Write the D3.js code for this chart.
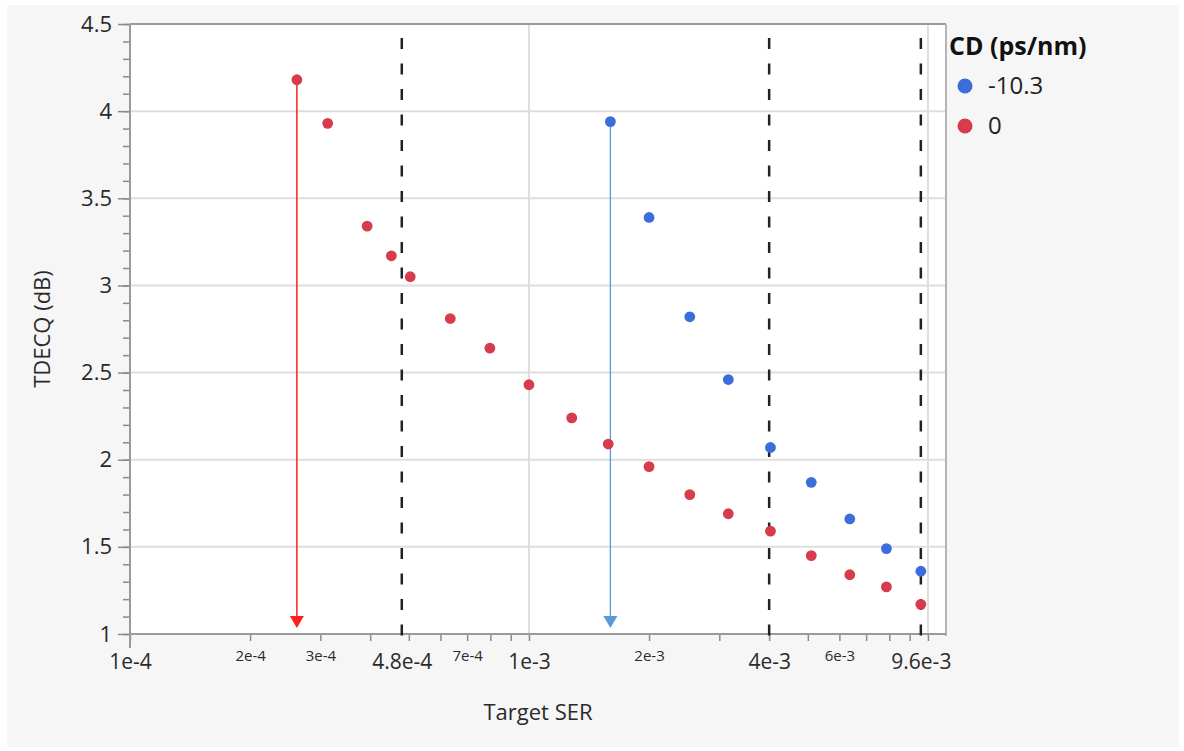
<!DOCTYPE html>
<html><head><meta charset="utf-8">
<script src="https://cdn.jsdelivr.net/npm/d3@7/dist/d3.min.js"></script>
<style>body{margin:0;background:#fff;} svg{display:block;font-family:"Open Sans",sans-serif;}</style>
</head><body><svg id="c" width="1184" height="751"></svg>
<script>
// ---- data ----
const legendTitle = "CD (ps/nm)";
const seriesNames = ["-10.3", "0"];
const seriesColors = ["#3b6ddb", "#d63c4c"];
const serBlue = [1.60e-3, 2.0e-3, 2.53e-3, 3.16e-3, 4.03e-3, 5.10e-3, 6.37e-3, 7.87e-3, 9.6e-3];
const tdecqBlue = [3.94, 3.39, 2.82, 2.46, 2.07, 1.87, 1.66, 1.49, 1.36];
const serRed = [2.62e-4, 3.13e-4, 3.93e-4, 4.52e-4, 5.04e-4, 6.35e-4, 7.98e-4, 1.0e-3, 1.28e-3, 1.58e-3, 2.0e-3, 2.53e-3, 3.16e-3, 4.03e-3, 5.10e-3, 6.37e-3, 7.87e-3, 9.6e-3];
const tdecqRed = [4.18, 3.93, 3.34, 3.17, 3.05, 2.81, 2.64, 2.43, 2.24, 2.09, 1.96, 1.80, 1.69, 1.59, 1.45, 1.34, 1.27, 1.17];
const refLines = [4.8e-4, 4e-3, 9.6e-3];
const xBigTicks = [1e-4, 4.8e-4, 1e-3, 4e-3, 9.6e-3];
const xBigLabels = ["1e-4", "4.8e-4", "1e-3", "4e-3", "9.6e-3"];
const xSmallTicks = [2e-4, 3e-4, 7e-4, 2e-3, 6e-3];
const xSmallLabels = ["2e-4", "3e-4", "7e-4", "2e-3", "6e-3"];
const xGrid = [1e-3, 1e-2];
const yTicks = [1, 1.5, 2, 2.5, 3, 3.5, 4, 4.5];
const yGrid = [1.5, 2, 2.5, 3, 3.5, 4];
const xTitle = "Target SER";
const yTitle = "TDECQ (dB)";

// ---- layout ----
const L = 130, R = 946, T = 24, B = 634;
const svg = d3.select("#c");
const x = d3.scaleLog().domain([1e-4, 0.0111]).range([L, R]);
const y = d3.scaleLinear().domain([1, 4.5]).range([B, T]);

svg.append("rect").attr("x", 7).attr("y", 5).attr("width", 1172).attr("height", 742).attr("fill", "#f6f6f6");
svg.append("rect").attr("x", L).attr("y", T).attr("width", R - L).attr("height", B - T).attr("fill", "#fff");

// grid
svg.append("g").selectAll("line").data(yGrid).join("line")
  .attr("x1", L).attr("x2", R).attr("y1", d => y(d)).attr("y2", d => y(d))
  .attr("stroke", "#dedede").attr("stroke-width", 2);
svg.append("g").selectAll("line").data(xGrid).join("line")
  .attr("x1", d => x(d)).attr("x2", d => x(d)).attr("y1", T).attr("y2", B)
  .attr("stroke", "#dedede").attr("stroke-width", 2);

// minor x ticks
const minorX = [];
[1e-4, 1e-3, 1e-2].forEach(dec => { for (let k = 1; k <= 9; k++) { const v = k * dec; if (v <= 0.0111) minorX.push(v); } });
const xAxisMinor = d3.axisBottom(x).tickValues(minorX).tickSize(7).tickFormat("");
const gxm = svg.append("g").attr("transform", `translate(0,${B})`).call(xAxisMinor);
gxm.select(".domain").remove();
gxm.selectAll("line").attr("stroke", "#8a8a8a").attr("stroke-width", 1.5);

// big x labels
const gxb = svg.append("g").attr("transform", `translate(0,${B})`)
  .call(d3.axisBottom(x).tickValues(xBigTicks).tickSize(0).tickPadding(20).tickFormat((d, i) => xBigLabels[i]));
gxb.select(".domain").remove();
gxb.selectAll("text").attr("font-size", 21).attr("fill", "#2a2a2a").attr("font-family", "Open Sans");
// small x labels
const gxs = svg.append("g").attr("transform", `translate(0,${B})`)
  .call(d3.axisBottom(x).tickValues(xSmallTicks).tickSize(0).tickPadding(16).tickFormat((d, i) => xSmallLabels[i]));
gxs.select(".domain").remove();
gxs.selectAll("text").attr("font-size", 15).attr("fill", "#2a2a2a").attr("font-family", "Open Sans");

// y axis minor
const minorY = d3.range(10, 46).map(v => v / 10);
const gym = svg.append("g").attr("transform", `translate(${L},0)`)
  .call(d3.axisLeft(y).tickValues(minorY).tickSize(7).tickFormat(""));
gym.select(".domain").remove();
gym.selectAll("line").attr("stroke", "#8a8a8a").attr("stroke-width", 1.5);
const gy = svg.append("g").attr("transform", `translate(${L},0)`)
  .call(d3.axisLeft(y).tickValues(yTicks).tickSize(12).tickPadding(6).tickFormat(d3.format("")));
gy.select(".domain").remove();
gy.selectAll("line").attr("stroke", "#8a8a8a").attr("stroke-width", 1.5);
gy.selectAll("text").attr("font-size", 22).attr("fill", "#2a2a2a").attr("font-family", "Open Sans");

// frame
svg.append("line").attr("x1", L).attr("x2", R).attr("y1", T).attr("y2", T).attr("stroke", "#9a9a9a").attr("stroke-width", 2);
svg.append("line").attr("x1", R).attr("x2", R).attr("y1", T).attr("y2", B + 2).attr("stroke", "#b5b5b5").attr("stroke-width", 2);
svg.append("line").attr("x1", L).attr("x2", R).attr("y1", B).attr("y2", B).attr("stroke", "#9a9a9a").attr("stroke-width", 2);
svg.append("line").attr("x1", L).attr("x2", L).attr("y1", T).attr("y2", B + 14).attr("stroke", "#9a9a9a").attr("stroke-width", 2);

// reference dashed lines
svg.append("g").selectAll("line").data(refLines).join("line")
  .attr("x1", d => x(d)).attr("x2", d => x(d)).attr("y1", T + 14).attr("y2", B + 16)
  .attr("stroke", "#222").attr("stroke-width", 2.5).attr("stroke-dasharray", "11,14.5");

// arrows
function arrow(xv, yv, color, w) {
  const px = x(xv), tip = y(1) - 6, top = tip - 12;
  svg.append("line").attr("x1", px).attr("x2", px).attr("y1", y(yv) + 5).attr("y2", top + 2)
    .attr("stroke", color).attr("stroke-width", w);
  svg.append("path").attr("d", `M${px - 7},${top}L${px + 7},${top}L${px},${tip}Z`).attr("fill", color);
}
arrow(serRed[0], tdecqRed[0], "#ff1f1f", 1.5);
arrow(serBlue[0], tdecqBlue[0], "#5b9bd5", 1.3);

// points
svg.append("g").selectAll("circle").data(serRed.map((s, i) => [s, tdecqRed[i]])).join("circle")
  .attr("cx", d => x(d[0])).attr("cy", d => y(d[1])).attr("r", 5.4).attr("fill", seriesColors[1]);
svg.append("g").selectAll("circle").data(serBlue.map((s, i) => [s, tdecqBlue[i]])).join("circle")
  .attr("cx", d => x(d[0])).attr("cy", d => y(d[1])).attr("r", 5.4).attr("fill", seriesColors[0]);

// titles
svg.append("text").attr("x", (L + R) / 2).attr("y", 720).attr("text-anchor", "middle")
  .attr("font-size", 22).attr("fill", "#2a2a2a").text(xTitle);
svg.append("text").attr("transform", `translate(50,${(T + B) / 2}) rotate(-90)`).attr("text-anchor", "middle")
  .attr("font-size", 22).attr("fill", "#2a2a2a").text(yTitle);

// legend
svg.append("text").attr("x", 949).attr("y", 55).attr("font-size", 25).attr("font-weight", "bold").attr("fill", "#111").text(legendTitle);
seriesNames.forEach((n, i) => {
  const cy = 86 + i * 40;
  svg.append("circle").attr("cx", 965).attr("cy", cy).attr("r", 7.5).attr("fill", seriesColors[i]);
  svg.append("text").attr("x", 988).attr("y", cy + 8).attr("font-size", 24).attr("fill", "#222").text(n);
});
</script></body></html>
